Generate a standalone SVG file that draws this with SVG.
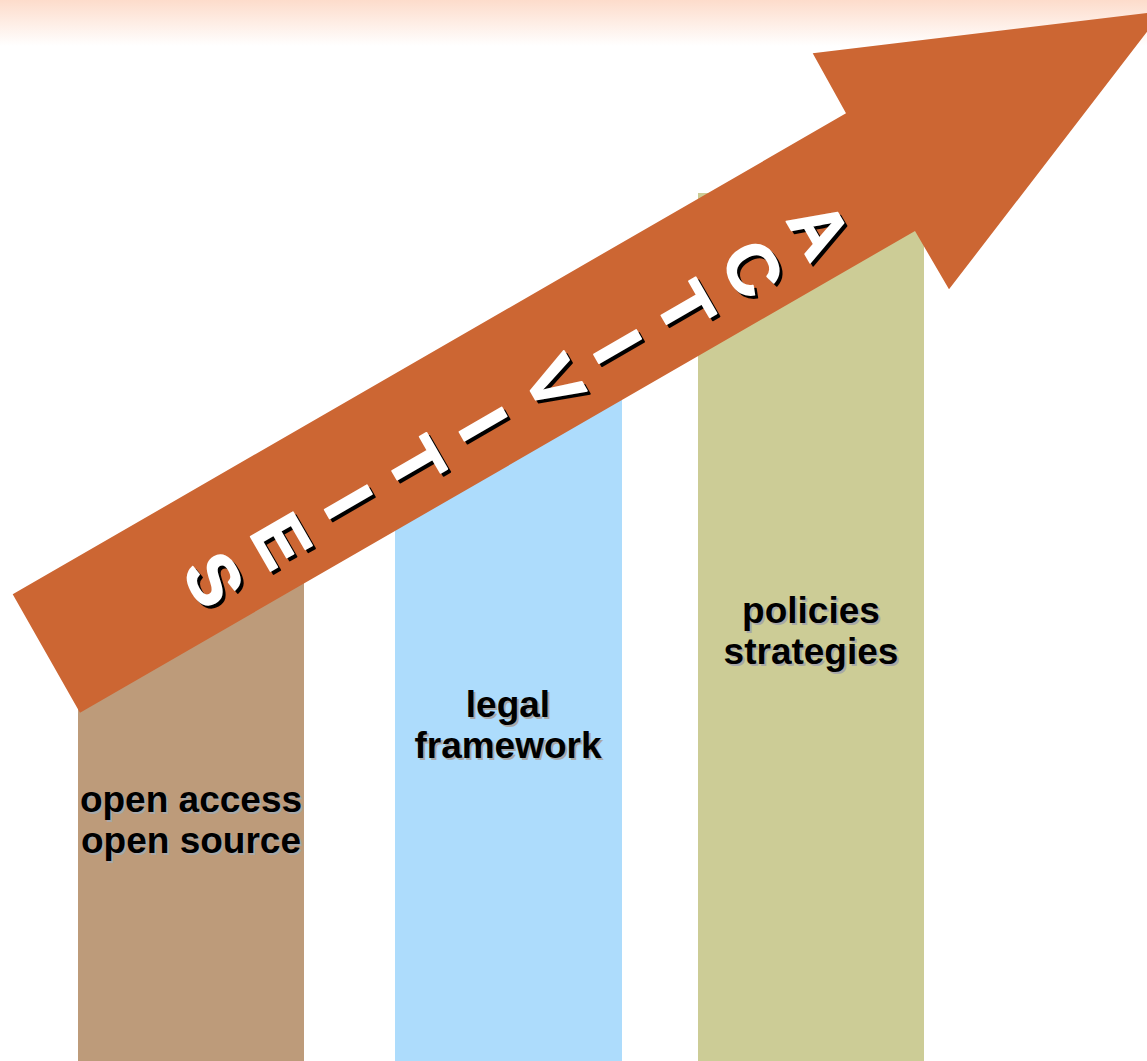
<svg xmlns="http://www.w3.org/2000/svg" xmlns:xlink="http://www.w3.org/1999/xlink" width="1147" height="1061" viewBox="0 0 1147 1061">
  <defs>
    <linearGradient id="topband" x1="0" y1="0" x2="0" y2="1">
      <stop offset="0" stop-color="#FDDCCB"/>
      <stop offset="1" stop-color="#FFFFFF"/>
    </linearGradient>
    <style>
      .lbl { font-family: "Liberation Sans", Arial, sans-serif; font-weight: bold; font-size: 37px; text-anchor: middle; }
      .lbl-shadow { fill: #A8A8A8; }
      .lbl-main { fill: #000000; }
      .act { font-family: "Liberation Sans", Arial, sans-serif; font-weight: bold; font-size: 71px; text-anchor: middle; stroke-width: 1.6px; stroke-linejoin: round; }
    </style>
    <g id="activities" class="act" transform="translate(55,671.3) rotate(-30)">
      <text transform="translate(184,0) rotate(90)" y="25">S</text>
      <text transform="translate(261.7,0) rotate(90)" y="25">E</text>
      <text transform="translate(339.4,0) rotate(90)" y="25">I</text>
      <text transform="translate(417.1,0) rotate(90)" y="25">T</text>
      <text transform="translate(494.8,0) rotate(90)" y="25">I</text>
      <text transform="translate(577,0) rotate(90)" y="25">V</text>
      <text transform="translate(650.2,0) rotate(90)" y="25">I</text>
      <text transform="translate(727.9,0) rotate(90)" y="25">T</text>
      <text transform="translate(805.6,0) rotate(90)" y="25">C</text>
      <text transform="translate(883.3,0) rotate(90)" y="25">A</text>
    </g>
  </defs>

  <g id="background">
    <rect x="0" y="0" width="1147" height="1061" fill="#FFFFFF"/>
    <rect x="0" y="0" width="1147" height="46" fill="url(#topband)"/>
  </g>

  <g id="bar-open-access">
    <rect x="78" y="560" width="226" height="501" fill="#BD9B7A"/>
    <text class="lbl lbl-shadow" x="193" y="814">open access</text>
    <text class="lbl lbl-shadow" x="193" y="855">open source</text>
    <text class="lbl lbl-main" x="191" y="812">open access</text>
    <text class="lbl lbl-main" x="191" y="853">open source</text>
  </g>

  <g id="bar-legal-framework">
    <rect x="395" y="380" width="227" height="681" fill="#ADDCFC"/>
    <text class="lbl lbl-shadow" x="510" y="719">legal</text>
    <text class="lbl lbl-shadow" x="510" y="760">framework</text>
    <text class="lbl lbl-main" x="508" y="717">legal</text>
    <text class="lbl lbl-main" x="508" y="758">framework</text>
  </g>

  <g id="bar-policies-strategies">
    <rect x="698" y="193" width="226" height="868" fill="#CCCC96"/>
    <text class="lbl lbl-shadow" x="813" y="625">policies</text>
    <text class="lbl lbl-shadow" x="813" y="666">strategies</text>
    <text class="lbl lbl-main" x="811" y="623">policies</text>
    <text class="lbl lbl-main" x="811" y="664">strategies</text>
  </g>

  <g id="connectors">
    <g id="arrow-activities">
      <polygon points="12.7,594.3 846,113.3 812.7,53.3 1163,11 949,289.3 915,231 80,712.7" fill="#CC6633"/>
      <use xlink:href="#activities" href="#activities" transform="translate(3,3)" fill="#000000" stroke="#000000"/>
      <use xlink:href="#activities" href="#activities" fill="#FFFFFF" stroke="#FFFFFF"/>
    </g>
  </g>
</svg>
